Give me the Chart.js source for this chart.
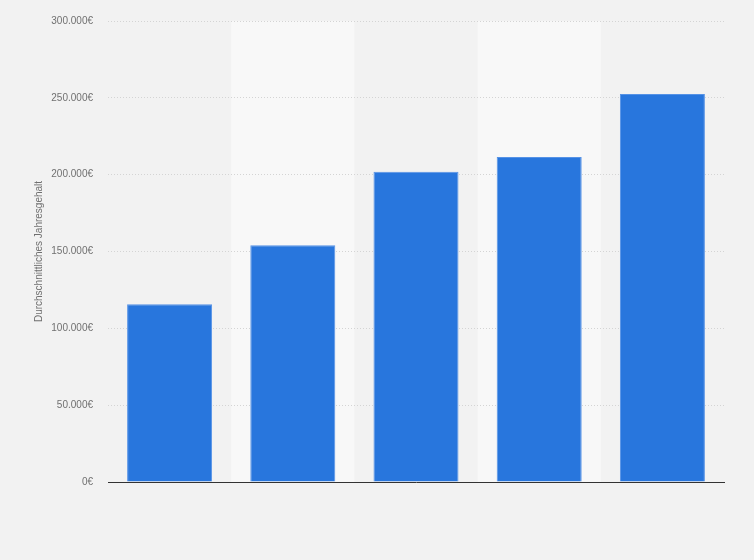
<!DOCTYPE html>
<html>
<head>
<meta charset="utf-8">
<script src="https://cdn.jsdelivr.net/npm/chart.js@4"></script>
<style>
  html, body { margin: 0; padding: 0; background: #f2f2f2; }
  #wrap { width: 754px; height: 560px; position: relative; }
</style>
</head>
<body>
<div id="wrap"><canvas id="c" width="754" height="560"></canvas></div>
<script>
const categories = ['Kategorie 1', 'Kategorie 2', 'Kategorie 3', 'Kategorie 4', 'Kategorie 5'];
const salaries = [115600, 154100, 201900, 211500, 252500];
const yTicks = [0, 50000, 100000, 150000, 200000, 250000, 300000];
const yAxisTitle = 'Durchschnittliches Jahresgehalt';

function formatEuro(v) {
  const s = Math.round(v).toString().replace(/\B(?=(\d{3})+(?!\d))/g, '.');
  return s + '€';
}

const bandPlugin = {
  id: 'bands',
  beforeDraw(chart) {
    const { ctx, chartArea, scales } = chart;
    const x = scales.x;
    const n = categories.length;
    const w = (chartArea.right - chartArea.left) / n;
    ctx.save();
    ctx.fillStyle = '#f8f8f8';
    for (let i = 1; i < n; i += 2) {
      const cx = x.getPixelForValue(i);
      ctx.fillRect(cx - w / 2, chartArea.top, w, chartArea.bottom - chartArea.top);
    }
    ctx.restore();
  }
};

new Chart(document.getElementById('c'), {
  type: 'bar',
  data: {
    labels: categories,
    datasets: [{
      data: salaries,
      backgroundColor: '#2876dd',
      borderColor: '#5592e6',
      borderWidth: 1,
      barPercentage: 0.69,
      categoryPercentage: 1.0
    }]
  },
  options: {
    responsive: false,
    animation: false,
    devicePixelRatio: 1,
    layout: { padding: { top: 20, right: 30, bottom: 70, left: 0 } },
    plugins: { legend: { display: false }, tooltip: { enabled: false } },
    scales: {
      x: {
        z: 1,
        grid: { display: false },
        ticks: { display: false },
        border: { display: true, color: '#333333', width: 1 }
      },
      y: {
        min: 0,
        max: 300000,
        afterFit(scale) { scale.width = 108; },
        afterBuildTicks(scale) { scale.ticks = yTicks.map(v => ({ value: v })); },
        grid: { color: '#d4d4d4', lineWidth: 1, drawTicks: false },
        border: { display: false, dash: [1, 2] },
        ticks: {
          padding: 15,
          color: '#707070',
          font: { family: 'Liberation Sans, Arial, sans-serif', size: 10 },
          callback: (v) => formatEuro(v)
        },
        title: {
          display: true,
          text: yAxisTitle,
          color: '#707070',
          font: { family: 'Liberation Sans, Arial, sans-serif', size: 10 },
          padding: { top: 33, bottom: 0 }
        }
      }
    }
  },
  plugins: [bandPlugin]
});
</script>
</body>
</html>
